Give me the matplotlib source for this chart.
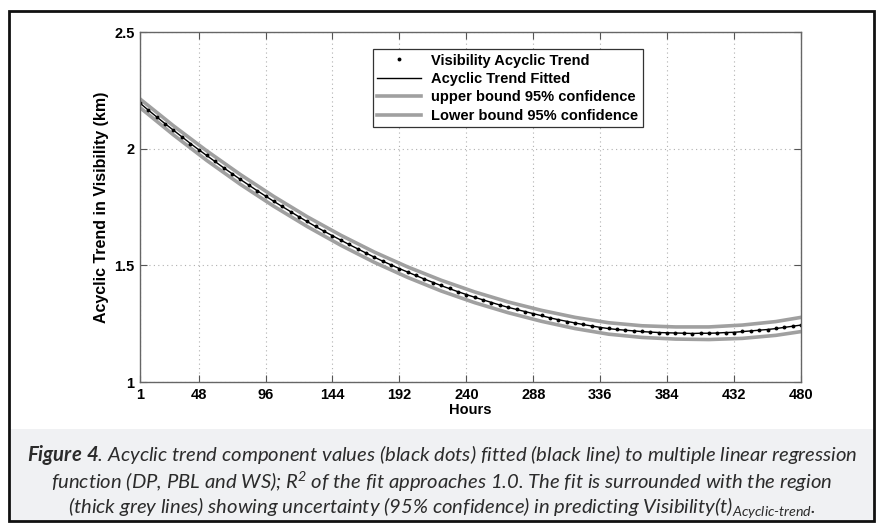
import matplotlib
matplotlib.use("Agg")
import matplotlib.pyplot as plt
from matplotlib.patches import Rectangle

plt.rcParams['font.family'] = ['Liberation Sans', 'DejaVu Sans']
plt.rcParams['mathtext.fontset'] = 'custom'
plt.rcParams['mathtext.rm'] = 'Lato:italic'
plt.rcParams['mathtext.it'] = 'Lato:italic'
plt.rcParams['mathtext.bf'] = 'Lato:italic:bold'

# x is the sample index (one sample every 6 hours), ticks labelled in hours
sample_index = list(range(1, 81))
tick_index = [1, 8, 16, 24, 32, 40, 48, 56, 64, 72, 80]
tick_hours = ['1', '48', '96', '144', '192', '240', '288', '336', '384', '432', '480']

# Visibility acyclic trend (km), observed points
trend_obs = [2.197, 2.166, 2.135, 2.106, 2.080, 2.050, 2.022, 1.994, 1.971, 1.945,
             1.917, 1.892, 1.869, 1.845, 1.819, 1.796, 1.775, 1.753, 1.729, 1.707,
             1.688, 1.667, 1.645, 1.626, 1.609, 1.590, 1.570, 1.552, 1.536, 1.519,
             1.501, 1.485, 1.472, 1.457, 1.440, 1.426, 1.414, 1.401, 1.386, 1.374,
             1.364, 1.353, 1.340, 1.329, 1.321, 1.312, 1.301, 1.292, 1.285, 1.276,
             1.266, 1.259, 1.254, 1.247, 1.239, 1.233, 1.230, 1.226, 1.221, 1.218,
             1.217, 1.215, 1.211, 1.210, 1.211, 1.210, 1.207, 1.208, 1.210, 1.211,
             1.211, 1.212, 1.217, 1.220, 1.221, 1.224, 1.231, 1.235, 1.238, 1.246]

# fitted trend
trend_fit = [2.195, 2.165, 2.136, 2.107, 2.079, 2.051, 2.023, 1.996, 1.970, 1.944,
             1.918, 1.893, 1.868, 1.844, 1.820, 1.797, 1.774, 1.752, 1.730, 1.708,
             1.687, 1.666, 1.646, 1.627, 1.608, 1.589, 1.571, 1.553, 1.535, 1.518,
             1.502, 1.486, 1.471, 1.456, 1.441, 1.427, 1.413, 1.400, 1.387, 1.375,
             1.363, 1.352, 1.341, 1.330, 1.320, 1.311, 1.302, 1.293, 1.284, 1.275,
             1.267, 1.260, 1.253, 1.246, 1.240, 1.234, 1.229, 1.225, 1.222, 1.219,
             1.216, 1.214, 1.212, 1.211, 1.210, 1.209, 1.208, 1.209, 1.209, 1.210,
             1.212, 1.213, 1.216, 1.219, 1.222, 1.225, 1.229, 1.234, 1.239, 1.244]

# 95% confidence bounds
bound_index = [1, 5, 9, 13, 17, 21, 25, 29, 33, 37, 41, 45, 49, 53, 57, 61, 65, 69, 73, 77, 80]
upper_bound = [2.213, 2.098, 1.990, 1.889, 1.795, 1.708, 1.629, 1.557, 1.493, 1.436, 1.386,
               1.343, 1.307, 1.277, 1.254, 1.241, 1.236, 1.236, 1.244, 1.259, 1.277]
lower_bound = [2.176, 2.059, 1.949, 1.847, 1.753, 1.666, 1.586, 1.513, 1.448, 1.390, 1.340,
               1.297, 1.260, 1.229, 1.205, 1.191, 1.184, 1.182, 1.187, 1.200, 1.216]

W, H = 882, 523
fig = plt.figure(figsize=(W / 100, H / 100), dpi=100)

# caption background and outer frame
fig.patches.append(Rectangle((9 / W, 1 - 521 / H), 864 / W, 92 / H,
                             transform=fig.transFigure, facecolor='#f0f1f3',
                             edgecolor='none', zorder=0))
fig.patches.append(Rectangle((8.5 / W, 1 - 521 / H), 865 / W, 510 / H,
                             transform=fig.transFigure, facecolor='none',
                             edgecolor='#111111', linewidth=2, zorder=1))

ax = fig.add_axes([140 / W, 1 - 382 / H, 661 / W, 350 / H])

ax.plot(bound_index, upper_bound, color='#a0a0a0', lw=2.6, label='upper bound 95% confidence')
ax.plot(bound_index, lower_bound, color='#a0a0a0', lw=2.6, label='Lower bound 95% confidence')
ax.plot(sample_index, trend_fit, color='black', lw=1.0, label='Acyclic Trend Fitted')
ax.plot(sample_index, trend_obs, 'o', color='black', ms=2.8, mec='none',
        label='Visibility Acyclic Trend')

ax.set_xlim(1, 80)
ax.set_ylim(1, 2.5)
ax.set_xticks(tick_index)
ax.set_xticklabels(tick_hours)
ax.set_yticks([1, 1.5, 2, 2.5])
ax.set_yticklabels(['1', '1.5', '2', '2.5'])
ax.grid(True, linestyle=(0, (1, 3)), color='#b0b0b0', lw=0.8)
ax.tick_params(direction='in', length=5, width=0.8, color='#555555',
               top=True, right=True, labelsize=10.5, pad=4)
for lab in ax.get_xticklabels() + ax.get_yticklabels():
    lab.set_fontweight('bold')
for sp in ax.spines.values():
    sp.set_color('#666666')
    sp.set_linewidth(1.0)

ax.set_xlabel('Hours', fontsize=10.5, fontweight='bold', labelpad=1)
ax.set_ylabel('Acyclic Trend in Visibility (km)', fontsize=11.5, fontweight='bold', labelpad=4)

handles, labels = ax.get_legend_handles_labels()
order = [3, 2, 0, 1]
leg = ax.legend([handles[i] for i in order], [labels[i] for i in order],
                loc='upper left', bbox_to_anchor=(0.352, 0.951), borderaxespad=0,
                frameon=True, fancybox=False, edgecolor='#333333', framealpha=1,
                prop={'weight': 'bold', 'size': 10.5}, handlelength=3.0,
                labelspacing=0.3, borderpad=0.3, handletextpad=0.7)
leg.get_frame().set_linewidth(0.9)

caption_lines = [
    r"$\mathbf{Figure\ 4}$. Acyclic trend component values (black dots) fitted (black line) to multiple linear regression",
    r"function (DP, PBL and WS); R$^{2}$ of the fit approaches 1.0. The fit is surrounded with the region",
    r"(thick grey lines) showing uncertainty (95% confidence) in predicting Visibility(t)$_{\mathrm{Acyclic\text{-}trend}}$.",
]
for k, line in enumerate(caption_lines):
    fig.text(442 / W, 1 - (455 + 26.5 * k) / H, line, ha='center', va='center',
             fontsize=14.6, family='Lato', style='italic', color='#2b2b2b')

fig.savefig('out.png', dpi=100)
